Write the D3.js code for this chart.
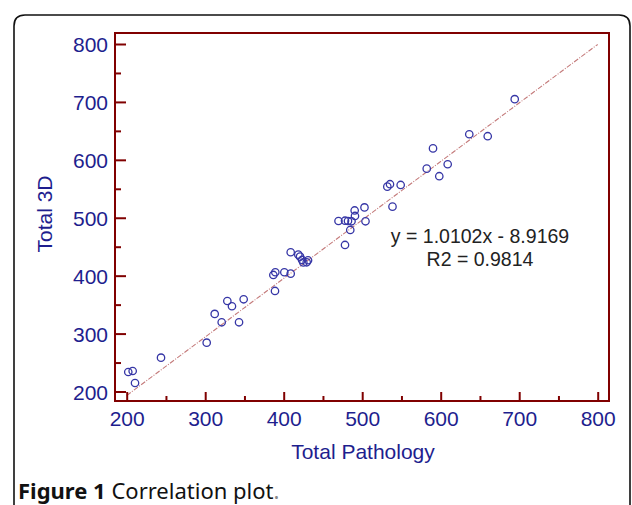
<!DOCTYPE html>
<html>
<head>
<meta charset="utf-8">
<script src="https://cdn.jsdelivr.net/npm/d3@7"></script>
<style>
  html, body { margin: 0; padding: 0; background: #fff; }
  svg { display: block; }
</style>
</head>
<body>
<svg id="chart" width="632" height="505"></svg>
<script>
// ---- data ----
const pathology = [202.0, 207.6, 210.6, 243.7, 301.9, 312.1, 321.0, 328.2, 334.1, 343.1, 349.0,
  388.9, 386.8, 389.3, 400.8, 408.9, 408.9, 418.6, 420.8, 423.4, 425.0, 429.3, 431.0,
  469.8, 478.1, 481.9, 486.4, 484.8, 490.4, 490.8, 502.9, 504.2, 478.1,
  532.0, 535.4, 549.0, 538.6, 582.2, 590.2, 598.2, 608.9, 636.4, 659.9, 694.3];
const total3D = [233.7, 235.4, 214.7, 258.4, 284.3, 333.9, 319.5, 356.3, 347.2, 319.5, 359.2,
  373.6, 401.2, 405.9, 405.9, 403.5, 440.4, 436.3, 432.8, 427.1, 422.8, 423.1, 426.6,
  494.4, 494.9, 494.4, 493.9, 478.9, 512.6, 503.1, 517.8, 493.9, 453.0,
  553.7, 557.9, 556.6, 519.2, 584.8, 619.7, 571.7, 592.4, 644.2, 640.8, 704.7];
const majorTicks = [200, 300, 400, 500, 600, 700, 800];
const minorTicks = [250, 350, 450, 550, 650, 750];
const fit = { slope: 1.0102, intercept: -8.9169 };
const fitRange = [200, 800];
const eqLines = ["y = 1.0102x - 8.9169", "R2 = 0.9814"];
const xTitle = "Total Pathology";
const yTitle = "Total 3D";

// ---- layout ----
const svg = d3.select("#chart");
const frame = { left: 115, right: 609, top: 33, bottom: 401 };
const x = d3.scaleLinear().domain([200, 800]).range([126.7, 597.7]);
const y = d3.scaleLinear().domain([200, 800]).range([391.5, 44]);
const axisColor = "#800000";
const labelColor = "#1e1e8e";
const font = "'Liberation Sans', Arial, sans-serif";

// outer rounded border
svg.append("path")
  .attr("d", "M14,520 L14,26 Q14,15 25,15 L619,15 Q630,15 630,26 L630,520")
  .attr("fill", "none").attr("stroke", "#111").attr("stroke-width", 1.6);

// regression line
svg.append("line")
  .attr("x1", x(fitRange[0])).attr("y1", y(fit.slope * fitRange[0] + fit.intercept))
  .attr("x2", x(fitRange[1])).attr("y2", y(fit.slope * fitRange[1] + fit.intercept))
  .attr("stroke", "#c47a7a").attr("stroke-width", 1.1)
  .attr("stroke-dasharray", "5,1.5,1,1.5");

// points
svg.append("g").selectAll("circle")
  .data(pathology.map((p, i) => [p, total3D[i]]))
  .join("circle")
  .attr("cx", d => x(d[0])).attr("cy", d => y(d[1]))
  .attr("r", 3.7)
  .attr("fill", "none").attr("stroke", "#3636a6").attr("stroke-width", 1.3);

// frame
svg.append("rect")
  .attr("x", frame.left).attr("y", frame.top)
  .attr("width", frame.right - frame.left).attr("height", frame.bottom - frame.top)
  .attr("fill", "none").attr("stroke", axisColor).attr("stroke-width", 2);

// axes via d3 axis generators (inward ticks)
const yAxisMajor = d3.axisLeft(y).tickValues(majorTicks).tickSize(-11).tickFormat(d3.format("d")).tickPadding(18);
const yAxisMinor = d3.axisLeft(y).tickValues(minorTicks).tickSize(-6).tickFormat("");
const xAxisMajor = d3.axisBottom(x).tickValues(majorTicks).tickSize(-9).tickFormat(d3.format("d")).tickPadding(16);
const xAxisMinor = d3.axisBottom(x).tickValues(minorTicks).tickSize(-5).tickFormat("");

function styleAxis(g) {
  g.select(".domain").remove();
  g.selectAll(".tick line").attr("stroke", axisColor).attr("stroke-width", 2);
  g.selectAll(".tick text").attr("fill", labelColor).attr("font-family", font).attr("font-size", 21);
}
svg.append("g").attr("transform", `translate(${frame.left},0)`).call(yAxisMajor).call(styleAxis)
  .selectAll(".tick text").attr("x", 108 - frame.left).attr("dy", "0.36em");
svg.append("g").attr("transform", `translate(${frame.left},0)`).call(yAxisMinor).call(styleAxis);
svg.append("g").attr("transform", `translate(0,${frame.bottom})`).call(xAxisMajor).call(styleAxis)
  .selectAll(".tick text").attr("y", 25).attr("dy", 0);
svg.append("g").attr("transform", `translate(0,${frame.bottom})`).call(xAxisMinor).call(styleAxis);

// axis titles
svg.append("text").text(xTitle)
  .attr("x", 363).attr("y", 459).attr("text-anchor", "middle")
  .attr("fill", labelColor).attr("font-family", font).attr("font-size", 21);
svg.append("text").text(yTitle)
  .attr("transform", "translate(52,214) rotate(-90)").attr("text-anchor", "middle")
  .attr("fill", labelColor).attr("font-family", font).attr("font-size", 21);

// equation
svg.append("g").selectAll("text").data(eqLines).join("text")
  .text(d => d)
  .attr("x", 480).attr("y", (d, i) => 243 + i * 22.7)
  .attr("text-anchor", "middle")
  .attr("fill", "#222").attr("font-family", font).attr("font-size", 19.5);

// caption
const cap = svg.append("text").attr("x", 18).attr("y", 499)
  .attr("font-family", "'Noto Sans', 'Open Sans', sans-serif").attr("font-size", 22).attr("fill", "#111");
cap.append("tspan").attr("font-weight", "bold").text("Figure 1");
cap.append("tspan").text(" Correlation plot");
cap.append("tspan").attr("fill", "#888").text(".");
</script>
</body>
</html>
